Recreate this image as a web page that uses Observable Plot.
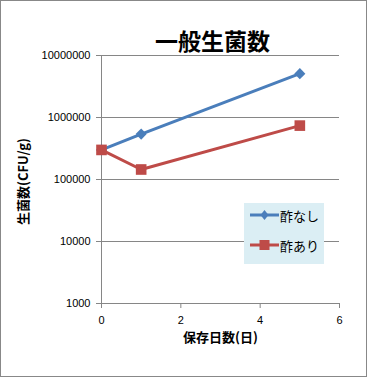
<!DOCTYPE html>
<html><head><meta charset="utf-8">
<script src="https://cdn.jsdelivr.net/npm/d3@7"></script>
<script src="https://cdn.jsdelivr.net/npm/@observablehq/plot@0.6"></script>
<style>
body{margin:0;background:#fff;}
#wrap{position:relative;width:365px;height:375px;border:1px solid #888;}
#wrap svg{display:block;}
.leg{position:absolute;left:243px;top:202px;width:80px;height:61px;background:#DBEEF4;font-family:"Noto Sans CJK JP",sans-serif;font-size:13px;}
.row{position:absolute;left:6px;height:16px;display:flex;align-items:center;}
.row span{margin-left:1px;}
</style></head><body>
<div id="wrap"></div>
<script>
const days = [0, 1, 5];
const seriesNames = ["酢なし", "酢あり"];
const noVinegar = [300000, 540000, 5100000];
const withVinegar = [300000, 145000, 740000];
const yTicks = [1000, 10000, 100000, 1000000, 10000000];
const xTicks = [0, 2, 4, 6];
const colors = ["#4A7EBB", "#BE4B48"];

const data = [];
days.forEach((d, i) => {
  data.push({day: d, v: noVinegar[i], s: seriesNames[0]});
  data.push({day: d, v: withVinegar[i], s: seriesNames[1]});
});
const f = "Liberation Sans, Arial, sans-serif";
const jp = "Noto Sans CJK JP, sans-serif";
const chart = Plot.plot({
  width: 365, height: 375,
  marginLeft: 100, marginTop: 54, marginRight: 27, marginBottom: 73,
  style: {fontFamily: f, fontSize: "11px", color: "#000", background: "#fff", overflow: "visible"},
  x: {domain: [0, 6]},
  y: {type: "log", domain: [1000, 10000000]},
  color: {domain: seriesNames, range: colors},
  marks: [
    Plot.gridY(yTicks, {stroke: "#868686", strokeOpacity: 1}),
    Plot.ruleX([0], {stroke: "#868686"}),
    Plot.axisY(yTicks, {tickFormat: d => String(d), tickSize: 5, tickPadding: 6, stroke: "#868686", fill: "#000", label: null}),
    Plot.axisX(xTicks, {tickSize: 5, tickPadding: 8, stroke: "#868686", fill: "#000", label: null}),
    Plot.line(data, {x: "day", y: "v", z: "s", stroke: "s", strokeWidth: 3}),
    Plot.dot(data.filter(d => d.s === seriesNames[0]), {x: "day", y: "v", symbol: "diamond2", fill: colors[0], r: 5}),
    Plot.dot(data.filter(d => d.s === seriesNames[1]), {x: "day", y: "v", symbol: "square", fill: colors[1], r: 6}),
    Plot.text(["一般生菌数"], {frameAnchor: "top", dx: -8, dy: -22, fontSize: 23, fontWeight: "bold", fontFamily: jp, fill: "#000"}),
    Plot.text(["生菌数(CFU/g)"], {frameAnchor: "left", textAnchor: "middle", dx: -78, dy: 2, rotate: -90, fontSize: 13, fontWeight: "bold", fontFamily: jp, fill: "#000"}),
    Plot.text(["保存日数(日)"], {frameAnchor: "bottom", dy: 38, fontSize: 13, fontWeight: "bold", fontFamily: jp, fill: "#000"})
  ]
});
const wrap = document.getElementById("wrap");
wrap.appendChild(chart);
const leg = document.createElement("div");
leg.className = "leg";
seriesNames.forEach((n, i) => {
  const r = document.createElement("div");
  r.className = "row";
  r.style.top = (i === 0 ? 4 : 34) + "px";
  const sym = i === 0
    ? `<polygon points="14.5,3 18.5,8 14.5,13 10.5,8" fill="${colors[0]}"/>`
    : `<rect x="9.5" y="3" width="10" height="10" fill="${colors[1]}"/>`;
  r.innerHTML = `<svg width="29" height="16"><line x1="0" x2="29" y1="8" y2="8" stroke="${colors[i]}" stroke-width="3"/>${sym}</svg><span>${n}</span>`;
  leg.appendChild(r);
});
wrap.appendChild(leg);
</script>
</body></html>
